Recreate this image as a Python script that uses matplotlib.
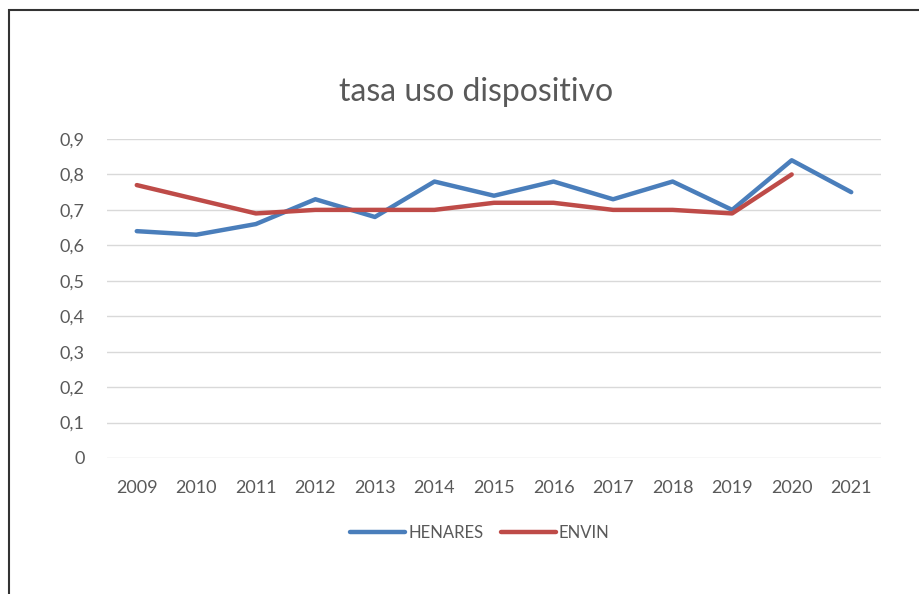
import matplotlib.pyplot as plt
from matplotlib.patches import Rectangle
from matplotlib.ticker import FuncFormatter

years = ['2009', '2010', '2011', '2012', '2013', '2014', '2015',
         '2016', '2017', '2018', '2019', '2020', '2021']
henares = [0.64, 0.63, 0.66, 0.73, 0.68, 0.78, 0.74, 0.78, 0.73, 0.78, 0.70, 0.84, 0.75]
envin = [0.77, 0.73, 0.69, 0.70, 0.70, 0.70, 0.72, 0.72, 0.70, 0.70, 0.69, 0.80]

plt.rcParams['font.family'] = ['Lato', 'DejaVu Sans']

fig = plt.figure(figsize=(9.19, 5.94), dpi=100)
fig.patches.append(Rectangle((9/919, -0.1), 1.2, 1 - 10/594 + 0.1, transform=fig.transFigure,
                             fill=False, edgecolor='#333333', lw=1.5))

ax = fig.add_axes([107/919, 1 - 458/594, 774/919, 319/594])
x = range(len(years))
ax.plot(x, henares, color='#4A7EBB', lw=3.2, label='HENARES', solid_capstyle='round')
ax.plot(range(len(envin)), envin, color='#BE4B48', lw=3.2, label='ENVIN', solid_capstyle='round')

ax.set_xlim(-0.5, len(years) - 0.5)
ax.set_ylim(0, 0.9)
ax.set_yticks([i / 10 for i in range(10)])
ax.yaxis.set_major_formatter(FuncFormatter(lambda v, p: f'{v:.1f}'.replace('.', ',') if v > 0 else '0'))
ax.set_xticks(list(x))
ax.set_xticklabels(years)
ax.grid(axis='y', color='#D9D9D9', lw=1)
ax.set_axisbelow(True)
for s in ax.spines.values():
    s.set_visible(False)
ax.tick_params(length=0, labelsize=13, colors='#595959')
ax.tick_params(axis='x', pad=15.5)
ax.tick_params(axis='y', pad=16)

fig.text(476/919, 1 - 92/594, 'tasa uso dispositivo', ha='center', va='center',
         fontsize=23, color='#595959')
fig.legend(loc='center', bbox_to_anchor=(480/919, 1 - 533/594), ncol=2, frameon=False,
           fontsize=12, labelcolor='#595959', handlelength=3.3, handletextpad=0.2, columnspacing=1.0)

fig.savefig('out.png', dpi=100)
